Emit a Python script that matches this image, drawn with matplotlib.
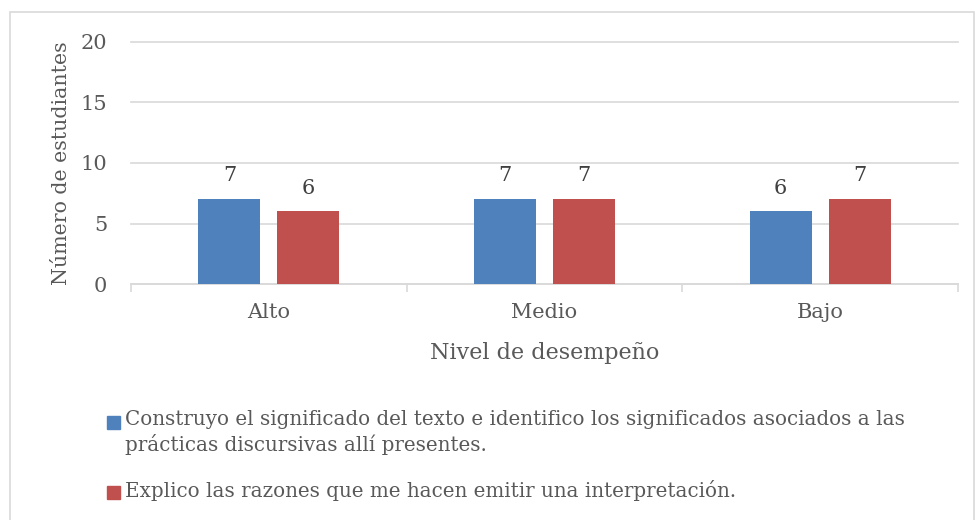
import matplotlib
matplotlib.use("Agg")
import matplotlib.pyplot as plt
import numpy as np
from matplotlib.patches import Rectangle

# ── datos ────────────────────────────────────────────────────────────────────
NIVELES = ["Alto", "Medio", "Bajo"]
SERIE_1 = [7, 7, 6]
SERIE_2 = [6, 7, 7]
ETIQUETA_1 = ("Construyo el significado del texto e identifico los significados asociados a las\n"
              "prácticas discursivas allí presentes.")
ETIQUETA_2 = "Explico las razones que me hacen emitir una interpretación."

AZUL, ROJO = "#4F81BD", "#C0504D"
GRIS_TXT, GRIS_LIN = "#595959", "#D9D9D9"
FS = 14.3

plt.rcParams["font.family"] = ["DejaVu Serif"]

W, H = 975, 520
fig = plt.figure(figsize=(W / 100, H / 100), dpi=100)
ax = fig.add_axes([131 / W, 1 - 284 / H, 827 / W, 242 / H])

x = np.arange(len(NIVELES))
w, off = 0.225, 0.143
b1 = ax.bar(x - off, SERIE_1, w, color=AZUL, zorder=3)
b2 = ax.bar(x + off, SERIE_2, w, color=ROJO, zorder=3)
for bars in (b1, b2):
    for bar in bars:
        ax.annotate(f"{bar.get_height():g}", (bar.get_x() + bar.get_width() / 2, bar.get_height()),
                    xytext=(0, 10), textcoords="offset points", ha="center", va="bottom",
                    fontsize=15, color="#404040")

ax.set_xlim(-0.5, 2.5)
ax.set_ylim(0, 20)
ax.set_yticks([0, 5, 10, 15, 20])
ax.grid(axis="y", color=GRIS_LIN, lw=1.2, zorder=0)
for gl in ax.get_ygridlines():
    gl.set_clip_on(False)
for s in ("top", "right", "left"):
    ax.spines[s].set_visible(False)
ax.spines["bottom"].set_color(GRIS_LIN)
ax.spines["bottom"].set_linewidth(1.2)

ax.set_xticks(x)
ax.set_xticklabels(NIVELES)
ax.set_xticks([-0.5, 0.5, 1.5, 2.5], minor=True)
ax.tick_params(axis="x", which="major", length=0, pad=14, labelsize=15, labelcolor=GRIS_TXT)
ax.tick_params(axis="x", which="minor", length=6, width=1.2, color=GRIS_LIN, direction="out")
ax.tick_params(axis="y", length=0, pad=17, labelsize=15, labelcolor=GRIS_TXT)

ax.set_xlabel("Nivel de desempeño", fontsize=16, color=GRIS_TXT, labelpad=14)
ax.set_ylabel("Número de estudiantes", fontsize=14.8, color=GRIS_TXT, labelpad=7)

# leyenda a mano (el texto largo va en dos líneas)
sq = 13
for yy, col, txt in ((422, AZUL, ETIQUETA_1), (492, ROJO, ETIQUETA_2)):
    fig.patches.append(Rectangle((107 / W, 1 - (yy + sq / 2) / H), sq / W, sq / H,
                                 transform=fig.transFigure, color=col))
    fig.text(125 / W, 1 - (yy - 12) / H, txt, ha="left", va="top", fontsize=FS,
             color=GRIS_TXT, linespacing=1.3)

# marco del gráfico
fig.patches.append(Rectangle((10 / W, -0.05), 964 / W, 1.05 - 12 / H, transform=fig.transFigure,
                             fill=False, ec=GRIS_LIN, lw=1.2))

fig.savefig("out.png", dpi=100)
